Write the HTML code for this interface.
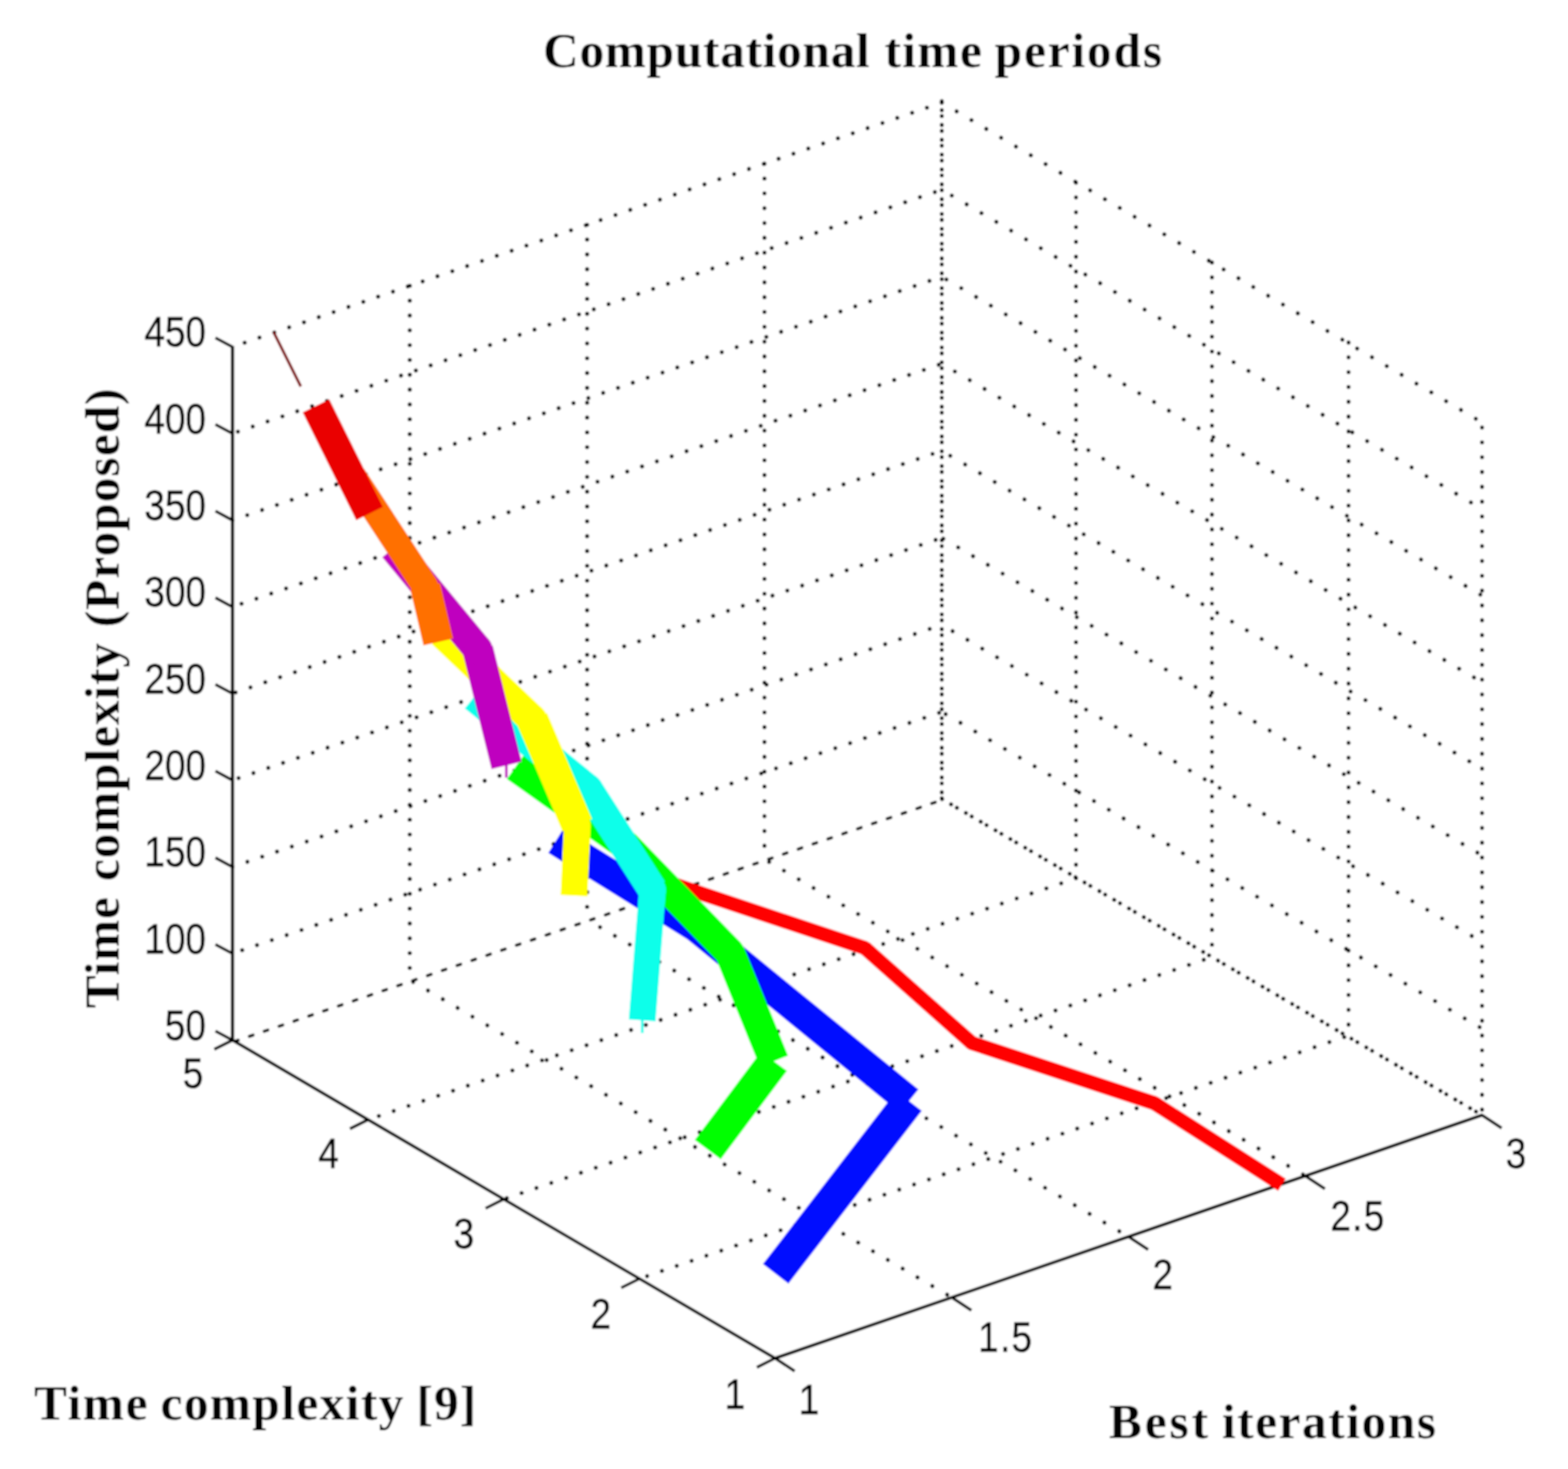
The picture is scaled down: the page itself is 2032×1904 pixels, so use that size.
<!DOCTYPE html>
<html lang="en">
<head>
<meta charset="utf-8">
<title>Computational time periods</title>
<style>
html, body { margin: 0; padding: 0; background: #fff; }
body { width: 2032px; height: 1904px; overflow: hidden; }
svg { display: block; }
</style>
</head>
<body>
<svg width="2032" height="1904" viewBox="0 0 2032 1904">
<defs><filter id="soft" x="0" y="0" width="100%" height="100%" filterUnits="objectBoundingBox"><feGaussianBlur stdDeviation="0.9"/></filter></defs>
<rect width="2032" height="1904" fill="#fff"/>
<g filter="url(#soft)">
<rect width="2032" height="1904" fill="#fff"/>
<g fill="none" stroke="#000" stroke-width="5.3" stroke-linecap="round">
<line x1="1220.5" y1="922.69" x2="301.2" y2="1235.88" stroke-dasharray="0.01 20.29" stroke-dashoffset="-3.7"/>
<line x1="1220.5" y1="922.69" x2="1920.6" y2="1333.16" stroke-dasharray="0.01 22.27" stroke-dashoffset="-5.8"/>
<line x1="1220.5" y1="809.88" x2="301.2" y2="1123.55" stroke-dasharray="0.01 20.3" stroke-dashoffset="-16.59"/>
<line x1="1220.5" y1="809.88" x2="1920.6" y2="1220.93" stroke-dasharray="0.01 22.28" stroke-dashoffset="-16.23"/>
<line x1="1220.5" y1="697.06" x2="301.2" y2="1011.23" stroke-dasharray="0.01 20.3" stroke-dashoffset="-8.45"/>
<line x1="1220.5" y1="697.06" x2="1920.6" y2="1108.69" stroke-dasharray="0.01 22.29" stroke-dashoffset="-2.32"/>
<line x1="1220.5" y1="584.25" x2="301.2" y2="898.9" stroke-dasharray="0.01 20.3" stroke-dashoffset="-12.68"/>
<line x1="1220.5" y1="584.25" x2="1920.6" y2="996.45" stroke-dasharray="0.01 22.29" stroke-dashoffset="-12.76"/>
<line x1="1220.5" y1="471.44" x2="301.2" y2="786.58" stroke-dasharray="0.01 20.31" stroke-dashoffset="-4.23"/>
<line x1="1220.5" y1="471.44" x2="1920.6" y2="884.21" stroke-dasharray="0.01 22.3" stroke-dashoffset="-19.73"/>
<line x1="1220.5" y1="358.62" x2="301.2" y2="674.25" stroke-dasharray="0.01 20.31" stroke-dashoffset="-16.92"/>
<line x1="1220.5" y1="358.62" x2="1920.6" y2="771.98" stroke-dasharray="0.01 22.31" stroke-dashoffset="-6.97"/>
<line x1="1220.5" y1="245.81" x2="301.2" y2="561.93" stroke-dasharray="0.01 20.31" stroke-dashoffset="-9.52"/>
<line x1="1220.5" y1="245.81" x2="1920.6" y2="659.74" stroke-dasharray="0.01 22.32" stroke-dashoffset="-15.1"/>
<line x1="1220.5" y1="133" x2="301.2" y2="449.6" stroke-dasharray="0.01 20.32" stroke-dashoffset="0"/>
<line x1="1220.5" y1="133" x2="1920.6" y2="547.5" stroke-dasharray="0.01 22.33" stroke-dashoffset="0"/>
<line x1="531.02" y1="370.45" x2="531.02" y2="1270.03" stroke-dasharray="0.01 19.21" stroke-dashoffset="0"/>
<line x1="760.85" y1="291.3" x2="760.85" y2="1191.85" stroke-dasharray="0.01 19.21" stroke-dashoffset="0"/>
<line x1="990.67" y1="212.15" x2="990.67" y2="1113.67" stroke-dasharray="0.01 19.21" stroke-dashoffset="0"/>
<line x1="1394.4" y1="236.62" x2="1394.4" y2="1137.97" stroke-dasharray="0.01 19.21" stroke-dashoffset="0"/>
<line x1="1570.6" y1="340.25" x2="1570.6" y2="1240.45" stroke-dasharray="0.01 19.21" stroke-dashoffset="0"/>
<line x1="1747.6" y1="443.88" x2="1747.6" y2="1342.93" stroke-dasharray="0.01 19.21" stroke-dashoffset="0"/>
<line x1="1920.6" y1="554.1" x2="1920.6" y2="1445.4" stroke-dasharray="0.01 19.21" stroke-dashoffset="0"/>
<line x1="1220.5" y1="131.2" x2="1220.5" y2="1035.5" stroke-dasharray="0.01 19.21" stroke-dashoffset="0"/>
<line x1="1220.5" y1="131.2" x2="1220.5" y2="1035.5" stroke-dasharray="0.01 19.21" stroke-dashoffset="-11.6"/>
<line x1="1233.45" y1="1681.65" x2="531.02" y2="1270.03" stroke-dasharray="0.01 22.27" stroke-dashoffset="-6.95"/>
<line x1="1462.5" y1="1602.9" x2="760.85" y2="1191.85" stroke-dasharray="0.01 22.27" stroke-dashoffset="-13.91"/>
<line x1="1691.55" y1="1524.15" x2="990.67" y2="1113.67" stroke-dasharray="0.01 22.26" stroke-dashoffset="-3.48"/>
<line x1="828.6" y1="1657.35" x2="1745.57" y2="1342.93" stroke-dasharray="0.01 20.31" stroke-dashoffset="-10.57"/>
<line x1="652.8" y1="1554.3" x2="1570.55" y2="1240.45" stroke-dasharray="0.01 20.3" stroke-dashoffset="-4.23"/>
<line x1="477" y1="1451.25" x2="1395.53" y2="1137.97" stroke-dasharray="0.01 20.3" stroke-dashoffset="-14.79"/>
</g>
<g fill="none" stroke="#000" stroke-width="4" stroke-linecap="round">
<line x1="305.2" y1="1349.4" x2="1220.5" y2="1037" stroke-dasharray="5 15.31" stroke-dashoffset="-19.02"/>
</g>
<g fill="none" stroke="#000" stroke-width="5.3" stroke-linecap="round">
<line x1="1220.5" y1="1035.5" x2="1920.6" y2="1445.4" stroke-dasharray="0.01 22.26" stroke-dashoffset="-13.91"/>
<line x1="1220.5" y1="1035.5" x2="1920.6" y2="1445.4" stroke-dasharray="0.01 22.26" stroke-dashoffset="-22.71"/>
</g>
<g fill="none" stroke="#000" stroke-linecap="butt">
<line x1="301.2" y1="448.6" x2="301.2" y2="1350.2" stroke-width="4.4"/>
<line x1="300.2" y1="1347.6" x2="1005.4" y2="1761" stroke-width="4.0"/>
<line x1="1003.4" y1="1760.75" x2="1921.6" y2="1445.05" stroke-width="4.2"/>
</g>
<g fill="none" stroke="#000" stroke-width="3.8" stroke-linecap="butt">
<line x1="301.2" y1="1348.2" x2="279.2" y2="1336.4"/>
<line x1="301.2" y1="1235.88" x2="279.2" y2="1224.08"/>
<line x1="301.2" y1="1123.55" x2="279.2" y2="1111.75"/>
<line x1="301.2" y1="1011.23" x2="279.2" y2="999.43"/>
<line x1="301.2" y1="898.9" x2="279.2" y2="887.1"/>
<line x1="301.2" y1="786.58" x2="279.2" y2="774.78"/>
<line x1="301.2" y1="674.25" x2="279.2" y2="662.45"/>
<line x1="301.2" y1="561.93" x2="279.2" y2="550.13"/>
<line x1="301.2" y1="449.6" x2="279.2" y2="437.8"/>
<line x1="1004.4" y1="1760.4" x2="980.9" y2="1772.2"/>
<line x1="828.6" y1="1657.35" x2="805.1" y2="1669.15"/>
<line x1="652.8" y1="1554.3" x2="629.3" y2="1566.1"/>
<line x1="477" y1="1451.25" x2="453.5" y2="1463.05"/>
<line x1="301.2" y1="1348.2" x2="277.7" y2="1360"/>
<line x1="1004.4" y1="1760.4" x2="1029.8" y2="1777.2"/>
<line x1="1233.45" y1="1681.65" x2="1258.85" y2="1698.45"/>
<line x1="1462.5" y1="1602.9" x2="1487.9" y2="1619.7"/>
<line x1="1691.55" y1="1524.15" x2="1716.95" y2="1540.95"/>
<line x1="1920.6" y1="1445.4" x2="1946" y2="1462.2"/>
</g>
<g fill="none" stroke-linecap="butt">
<g stroke="#ff0000" fill="#ff0000">
<line x1="876" y1="1147" x2="1120.9" y2="1228.8" stroke-width="18.6"/>
<line x1="1120.9" y1="1228.8" x2="1259.3" y2="1351.8" stroke-width="18.6"/>
<line x1="1259.3" y1="1351.8" x2="1496" y2="1429.9" stroke-width="18.6"/>
<line x1="1496" y1="1429.9" x2="1661.3" y2="1535.6" stroke-width="18.6"/>
<circle cx="1120.9" cy="1228.8" r="9.3" stroke="none"/>
<circle cx="1259.3" cy="1351.8" r="9.3" stroke="none"/>
<circle cx="1496" cy="1429.9" r="9.3" stroke="none"/>
</g>
<g stroke="#0011ff" fill="#0011ff">
<line x1="720.7" y1="1089.3" x2="903" y2="1202.5" stroke-width="38.4"/>
<line x1="903" y1="1202.5" x2="1178" y2="1427" stroke-width="38.6"/>
<line x1="1178" y1="1427" x2="1005.2" y2="1651" stroke-width="41.7"/>
<circle cx="903" cy="1202.5" r="19.2" stroke="none"/>
</g>
<g stroke="#00ff00" fill="#00ff00">
<line x1="668" y1="994" x2="810" y2="1095" stroke-width="38.4"/>
<line x1="810" y1="1095" x2="946" y2="1235" stroke-width="38.4"/>
<line x1="946" y1="1235" x2="1003" y2="1375.5" stroke-width="39.2"/>
<line x1="1003" y1="1375.5" x2="917.2" y2="1490" stroke-width="42"/>
<circle cx="810" cy="1095" r="19.2" stroke="none"/>
<circle cx="946" cy="1235" r="19.2" stroke="none"/>
</g>
<g stroke="#0dffea" fill="#0dffea">
<line x1="832.4" y1="1320" x2="832.4" y2="1339" stroke-width="3.4"/>
<line x1="614.4" y1="903.3" x2="761.9" y2="1022.4" stroke-width="38.4"/>
<line x1="761.9" y1="1022.4" x2="845.6" y2="1153" stroke-width="38.4"/>
<line x1="845.6" y1="1153" x2="832.2" y2="1322.5" stroke-width="34.8"/>
<circle cx="761.9" cy="1022.4" r="19.2" stroke="none"/>
<circle cx="845.6" cy="1153" r="17.4" stroke="none"/>
</g>
<g stroke="#ffff00" fill="#ffff00">
<line x1="573" y1="821" x2="689.8" y2="932.3" stroke-width="38.4"/>
<line x1="689.8" y1="932.3" x2="748.1" y2="1069.6" stroke-width="41.5"/>
<line x1="748.1" y1="1069.6" x2="743.9" y2="1160.9" stroke-width="34.8"/>
<circle cx="689.8" cy="932.3" r="19.2" stroke="none"/>
<circle cx="748.1" cy="1069.6" r="17.4" stroke="none"/>
</g>
<g stroke="#bf00bf" fill="#bf00bf">
<line x1="656.3" y1="990" x2="656.3" y2="1008" stroke-width="3.4"/>
<line x1="510.3" y1="710.1" x2="619.1" y2="841.7" stroke-width="38.4"/>
<line x1="619.1" y1="841.7" x2="656.5" y2="992" stroke-width="40.1"/>
<circle cx="619.1" cy="841.7" r="19.2" stroke="none"/>
</g>
<g stroke="#ff6f00" fill="#ff6f00">
<line x1="457.4" y1="617" x2="551" y2="760" stroke-width="34.6"/>
<line x1="551" y1="760" x2="568" y2="832" stroke-width="39.4"/>
<circle cx="551" cy="760" r="17.3" stroke="none"/>
</g>
<g stroke="#ea0000" fill="#ea0000">
<line x1="409.5" y1="526" x2="478.9" y2="665.6" stroke-width="38.4"/>
</g>
<g stroke="#7f0000" fill="#7f0000">
<line x1="354.4" y1="430.1" x2="389.8" y2="500.9" stroke-width="3.6"/>
</g>
</g>
<g font-family="'Liberation Sans', sans-serif" font-size="48" fill="#000" stroke="#000" stroke-width="0.5">
<text transform="translate(267 1348) scale(1 1.17)" text-anchor="end">50</text>
<text transform="translate(267 1235.67) scale(1 1.17)" text-anchor="end">100</text>
<text transform="translate(267 1123.35) scale(1 1.17)" text-anchor="end">150</text>
<text transform="translate(267 1011.02) scale(1 1.17)" text-anchor="end">200</text>
<text transform="translate(267 898.7) scale(1 1.17)" text-anchor="end">250</text>
<text transform="translate(267 786.38) scale(1 1.17)" text-anchor="end">300</text>
<text transform="translate(267 674.05) scale(1 1.17)" text-anchor="end">350</text>
<text transform="translate(267 561.73) scale(1 1.17)" text-anchor="end">400</text>
<text transform="translate(267 449.4) scale(1 1.17)" text-anchor="end">450</text>
<text transform="translate(263.5 1410) scale(1 1.17)" text-anchor="end">5</text>
<text transform="translate(439.2 1513.6) scale(1 1.17)" text-anchor="end">4</text>
<text transform="translate(614.5 1617.7) scale(1 1.17)" text-anchor="end">3</text>
<text transform="translate(792 1721.8) scale(1 1.17)" text-anchor="end">2</text>
<text transform="translate(965.6 1826.1) scale(1 1.17)" text-anchor="end">1</text>
<text transform="translate(1035 1833.1) scale(1 1.17)" text-anchor="start">1</text>
<text transform="translate(1267.6 1752.2) scale(1 1.17)" text-anchor="start" letter-spacing="1.6">1.5</text>
<text transform="translate(1493.6 1671.3) scale(1 1.17)" text-anchor="start">2</text>
<text transform="translate(1724 1595) scale(1 1.17)" text-anchor="start" letter-spacing="1.6">2.5</text>
<text transform="translate(1951.2 1513.9) scale(1 1.17)" text-anchor="start">3</text>
</g>
<g font-family="'Liberation Serif', serif" font-size="64" font-weight="bold" fill="#000">
<text y="87"><tspan x="703.8" letter-spacing="0.9">Computational</tspan> <tspan x="1146.2" letter-spacing="1.77">time</tspan> <tspan x="1289" letter-spacing="2.35">periods</tspan></text>
<text transform="translate(153.6 1306.8) rotate(-90)" y="0"><tspan x="0" letter-spacing="0.97">Time</tspan> <tspan x="164.7" letter-spacing="1.14">complexity</tspan> <tspan x="493.7" letter-spacing="1.37">(Proposed)</tspan></text>
<text y="1840"><tspan x="44.1" letter-spacing="1.97">Time</tspan> <tspan x="208" letter-spacing="1.8">complexity</tspan> <tspan x="539.8" letter-spacing="1.3">[9]</tspan></text>
<text y="1863.7"><tspan x="1437.1" letter-spacing="3.7">Best</tspan> <tspan x="1583.4" letter-spacing="2">iterations</tspan></text>
</g>
</g>
</svg>
</body>
</html>
